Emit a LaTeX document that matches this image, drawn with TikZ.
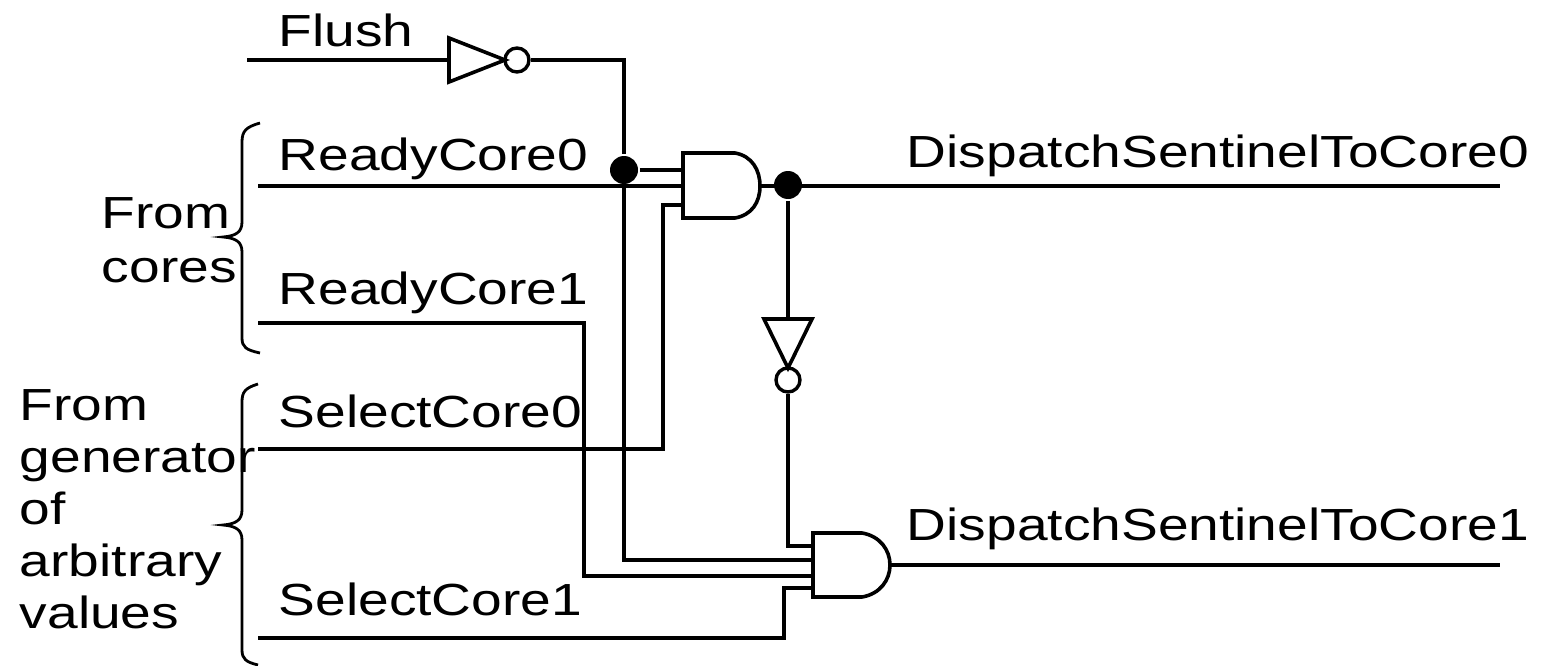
\documentclass[tikz,border=0pt]{standalone}
\usepackage{fontspec}
\setmainfont{Liberation Sans}[FakeStretch=1.225]
\begin{document}
\begin{tikzpicture}[x=1pt,y=-1pt,line width=3.6pt,line join=miter,
  lbl/.style={anchor=base west,inner sep=0pt,font=\fontsize{45}{52}\selectfont},
  dotj/.style={circle,fill,inner sep=0pt,minimum size=28pt},
  bubble/.style={circle,draw,line width=3.4pt,inner sep=0pt,minimum size=24pt},
  bracepath/.style={draw,line width=2.8pt}]
\useasboundingbox (0,0) rectangle (1541,666);
% labels
\node[lbl] (tFlush) at (277,47) {Flush};
\node[lbl] (tR0) at (277,170) {ReadyCore0};
\node[lbl] (tR1) at (277,304) {ReadyCore1};
\node[lbl] (tS0) at (277,427) {SelectCore0};
\node[lbl] (tS1) at (277,615) {SelectCore1};
\node[lbl] (tD0) at (905,167) {DispatchSentinelToCore0};
\node[lbl] (tD1) at (905,540) {DispatchSentinelToCore1};
\node[lbl] (tFrom1) at (100,228) {From};
\node[lbl] (tCores) at (100,282) {cores};
\node[lbl] (tFrom2) at (18,420) {From};
\node[lbl] (tGen) at (18,472) {generator};
\node[lbl] (tOf) at (18,524) {of};
\node[lbl] (tArb) at (18,576) {arbitrary};
\node[lbl] (tVal) at (18,628) {values};
% braces
\draw[bracepath] (260,123) .. controls (246,127) and (242,131) .. (242,142) -- (242,222) .. controls (242,232) and (236,236) .. (223,237) .. controls (236,238) and (242,242) .. (242,252) -- (242,338) .. controls (242,347) and (246,350) .. (260,353);
\draw[bracepath] (258,384) .. controls (245,388) and (242,392) .. (242,402) -- (242,510) .. controls (242,520) and (236,524) .. (223,525) .. controls (236,526) and (242,530) .. (242,540) -- (242,650) .. controls (242,659) and (246,662) .. (258,665);
% gates: top AND
\coordinate (g0a) at (683,170);
\coordinate (g0b) at (683,186);
\coordinate (g0c) at (683,205);
\coordinate (g0o) at (760,186);
\draw (683,153) -- (735,153) .. controls (752,156) and (760,170) .. (g0o) .. controls (760,202) and (752,215) .. (735,218) -- (683,218) -- cycle;
% bottom AND
\coordinate (g1a) at (813,546);
\coordinate (g1b) at (813,560);
\coordinate (g1c) at (813,576);
\coordinate (g1d) at (813,588);
\coordinate (g1o) at (890,565);
\draw (813,533) -- (862,533) .. controls (880,536) and (890,550) .. (g1o) .. controls (890,580) and (880,594) .. (862,597) -- (813,597) -- cycle;
% inverter Flush
\draw (449,38) -- (505,60) -- (449,82) -- cycle;
\node[bubble] (b1) at (517,60) {};
% inverter vertical
\draw (764,319) -- (812,319) -- (788,368) -- cycle;
\node[bubble] (b2) at (788,380) {};
% junction dots
\node[dotj] (j1) at (624,170) {};
\node[dotj] (j2) at (788,185) {};
% wires
\coordinate (fin) at (247,60);
\coordinate (inv1in) at (449,60);
\draw (fin) -- (inv1in);
\draw (b1.east) -- (624,60) -- (j1) -- (624,560) -- (g1b);
\draw (j1) -- (g0a);
\coordinate (r0in) at (258,186);
\draw (r0in) -- (g0b);
\coordinate (s0in) at (258,449);
\draw (s0in) -- (663,449) -- (663,205) -- (g0c);
\coordinate (d0out) at (1500,186);
\draw (g0o) -- (d0out);
\draw (j2) -- (788,319);
\draw (b2.south) -- (788,546) -- (g1a);
\coordinate (r1in) at (258,323);
\draw (r1in) -- (584,323) -- (584,576) -- (g1c);
\coordinate (s1in) at (258,638);
\draw (s1in) -- (784,638) -- (784,588) -- (g1d);
\coordinate (d1out) at (1500,565);
\draw (g1o) -- (d1out);
\end{tikzpicture}
\end{document}
